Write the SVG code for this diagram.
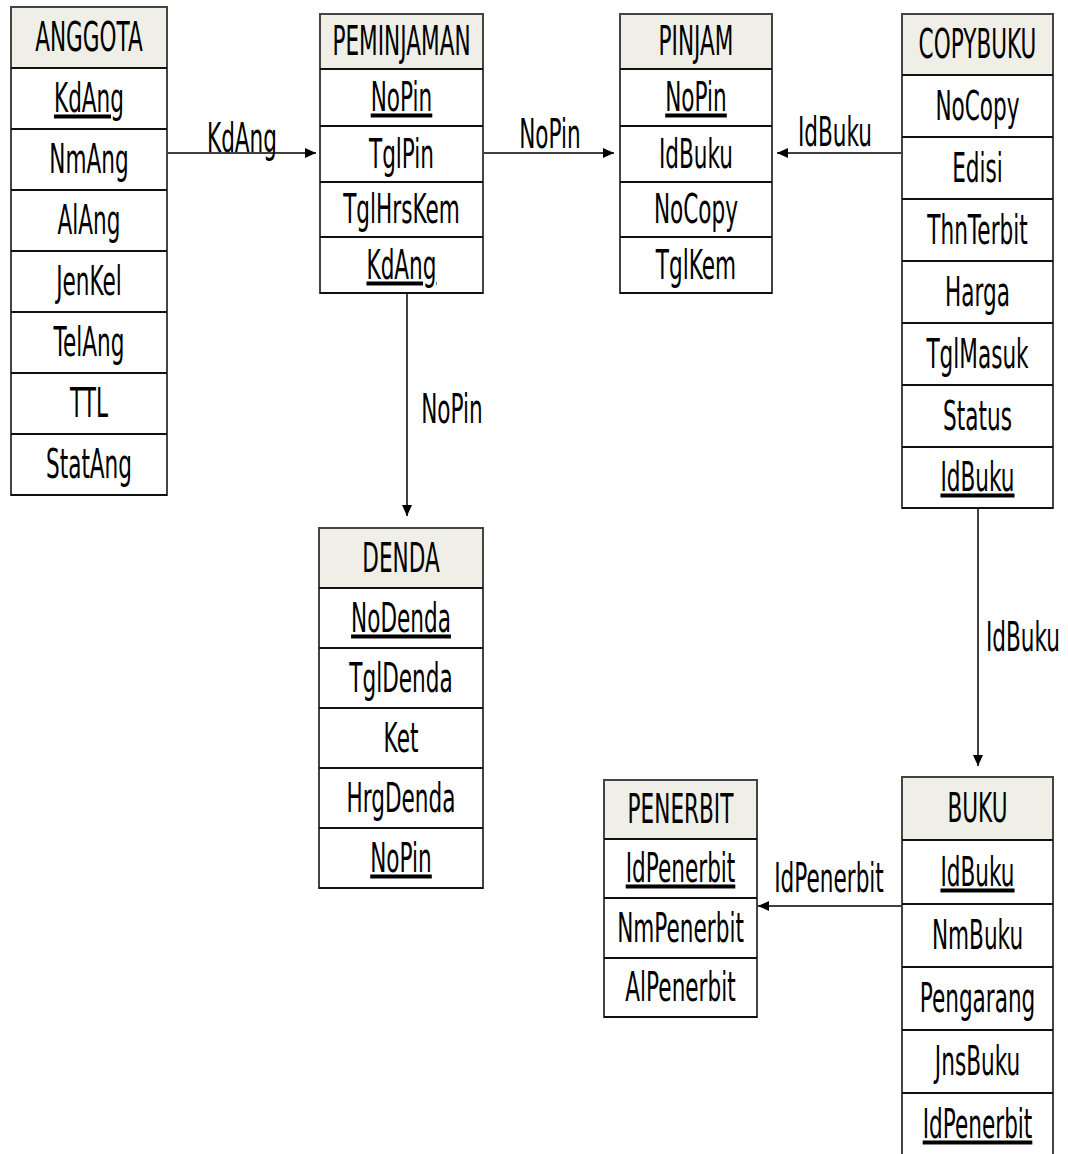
<svg xmlns="http://www.w3.org/2000/svg" width="1068" height="1154" viewBox="0 0 1068 1154">
<style>
.box{fill:#ffffff;stroke:#444;stroke-width:2}
.hdr{fill:#efefe7;stroke:none}
.sep{stroke:#111;stroke-width:2;fill:none}
.t{font-family:"DejaVu Sans","Liberation Sans",sans-serif;font-size:40px;fill:#000;text-anchor:middle}
.u{text-decoration:underline}
.con{stroke:#000;stroke-width:1.5;fill:none;marker-end:url(#arr)}
</style>
<defs>
<marker id="arr" markerUnits="userSpaceOnUse" markerWidth="12" markerHeight="12" viewBox="0 0 12 12" refX="11" refY="6" orient="auto">
<path d="M0,1 L11,6 L0,11 Z" fill="#000"/>
</marker>
</defs>
<rect width="1068" height="1154" fill="#fff"/>

<g id="connectors">
<line class="con" x1="167" y1="153" x2="316" y2="153"/>
<line class="con" x1="483" y1="153" x2="614" y2="153"/>
<line class="con" x1="902" y1="153" x2="777" y2="153"/>
<line class="con" x1="407" y1="293" x2="407" y2="516"/>
<line class="con" x1="978" y1="508" x2="978" y2="766"/>
<line class="con" x1="902" y1="906" x2="758" y2="906"/>
<text class="t" transform="translate(242,152) scale(0.54,1)">KdAng</text>
<text class="t" transform="translate(550,148) scale(0.54,1)">NoPin</text>
<text class="t" transform="translate(835,146) scale(0.54,1)">IdBuku</text>
<text class="t" transform="translate(452,423) scale(0.54,1)">NoPin</text>
<text class="t" transform="translate(1023,651) scale(0.54,1)">IdBuku</text>
<text class="t" transform="translate(829,892) scale(0.54,1)">IdPenerbit</text>
</g>

<g id="anggota">
<rect class="box" x="11" y="7" width="156" height="488"/>
<rect class="hdr" x="12" y="8" width="154" height="60"/>
<path class="sep" d="M11,68H167M11,129H167M11,190H167M11,251H167M11,312H167M11,373H167M11,434H167M11,495H167"/>
<text class="t" transform="translate(89,51) scale(0.54,1)">ANGGOTA</text>
<text class="t u" transform="translate(89,112) scale(0.54,1)">KdAng</text>
<text class="t" transform="translate(89,173) scale(0.54,1)">NmAng</text>
<text class="t" transform="translate(89,234) scale(0.54,1)">AlAng</text>
<text class="t" transform="translate(89,295) scale(0.54,1)">JenKel</text>
<text class="t" transform="translate(89,356) scale(0.54,1)">TelAng</text>
<text class="t" transform="translate(89,417) scale(0.54,1)">TTL</text>
<text class="t" transform="translate(89,478) scale(0.54,1)">StatAng</text>
</g>

<g id="peminjaman">
<rect class="box" x="320" y="14" width="163" height="279"/>
<rect class="hdr" x="321" y="15" width="161" height="54"/>
<path class="sep" d="M320,69H483M320,126H483M320,182H483M320,237H483M320,293H483"/>
<text class="t" transform="translate(401.5,55) scale(0.54,1)">PEMINJAMAN</text>
<text class="t u" transform="translate(401.5,111) scale(0.54,1)">NoPin</text>
<text class="t" transform="translate(401.5,168) scale(0.54,1)">TglPin</text>
<text class="t" transform="translate(401.5,223) scale(0.54,1)">TglHrsKem</text>
<text class="t u" transform="translate(401.5,279) scale(0.54,1)">KdAng</text>
</g>

<g id="pinjam">
<rect class="box" x="620" y="14" width="152" height="279"/>
<rect class="hdr" x="621" y="15" width="150" height="54"/>
<path class="sep" d="M620,69H772M620,126H772M620,182H772M620,237H772M620,293H772"/>
<text class="t" transform="translate(696,55) scale(0.54,1)">PINJAM</text>
<text class="t u" transform="translate(696,111) scale(0.54,1)">NoPin</text>
<text class="t" transform="translate(696,168) scale(0.54,1)">IdBuku</text>
<text class="t" transform="translate(696,223) scale(0.54,1)">NoCopy</text>
<text class="t" transform="translate(696,279) scale(0.54,1)">TglKem</text>
</g>

<g id="copybuku">
<rect class="box" x="902" y="14" width="151" height="494"/>
<rect class="hdr" x="903" y="15" width="149" height="60"/>
<path class="sep" d="M902,75H1053M902,137H1053M902,199H1053M902,261H1053M902,323H1053M902,385H1053M902,447H1053M902,508H1053"/>
<text class="t" transform="translate(977.5,58) scale(0.54,1)">COPYBUKU</text>
<text class="t" transform="translate(977.5,120) scale(0.54,1)">NoCopy</text>
<text class="t" transform="translate(977.5,182) scale(0.54,1)">Edisi</text>
<text class="t" transform="translate(977.5,244) scale(0.54,1)">ThnTerbit</text>
<text class="t" transform="translate(977.5,306) scale(0.54,1)">Harga</text>
<text class="t" transform="translate(977.5,368) scale(0.54,1)">TglMasuk</text>
<text class="t" transform="translate(977.5,430) scale(0.54,1)">Status</text>
<text class="t u" transform="translate(977.5,491) scale(0.54,1)">IdBuku</text>
</g>

<g id="denda">
<rect class="box" x="319" y="528" width="164" height="360"/>
<rect class="hdr" x="320" y="529" width="162" height="59"/>
<path class="sep" d="M319,588H483M319,648H483M319,708H483M319,768H483M319,828H483M319,888H483"/>
<text class="t" transform="translate(401,572) scale(0.54,1)">DENDA</text>
<text class="t u" transform="translate(401,632) scale(0.54,1)">NoDenda</text>
<text class="t" transform="translate(401,692) scale(0.54,1)">TglDenda</text>
<text class="t" transform="translate(401,752) scale(0.54,1)">Ket</text>
<text class="t" transform="translate(401,812) scale(0.54,1)">HrgDenda</text>
<text class="t u" transform="translate(401,872) scale(0.54,1)">NoPin</text>
</g>

<g id="penerbit">
<rect class="box" x="604" y="780" width="153" height="237"/>
<rect class="hdr" x="605" y="781" width="151" height="58"/>
<path class="sep" d="M604,839H757M604,898H757M604,958H757M604,1017H757"/>
<text class="t" transform="translate(680.5,823) scale(0.54,1)">PENERBIT</text>
<text class="t u" transform="translate(680.5,882) scale(0.54,1)">IdPenerbit</text>
<text class="t" transform="translate(680.5,942) scale(0.54,1)">NmPenerbit</text>
<text class="t" transform="translate(680.5,1001) scale(0.54,1)">AlPenerbit</text>
</g>

<g id="buku">
<rect class="box" x="902" y="777" width="151" height="382"/>
<rect class="hdr" x="903" y="778" width="149" height="62"/>
<path class="sep" d="M902,840H1053M902,904H1053M902,967H1053M902,1030H1053M902,1093H1053"/>
<text class="t" transform="translate(977.5,822) scale(0.54,1)">BUKU</text>
<text class="t u" transform="translate(977.5,886) scale(0.54,1)">IdBuku</text>
<text class="t" transform="translate(977.5,949) scale(0.54,1)">NmBuku</text>
<text class="t" transform="translate(977.5,1012) scale(0.54,1)">Pengarang</text>
<text class="t" transform="translate(977.5,1075) scale(0.54,1)">JnsBuku</text>
<text class="t u" transform="translate(977.5,1138) scale(0.54,1)">IdPenerbit</text>
</g>
</svg>
